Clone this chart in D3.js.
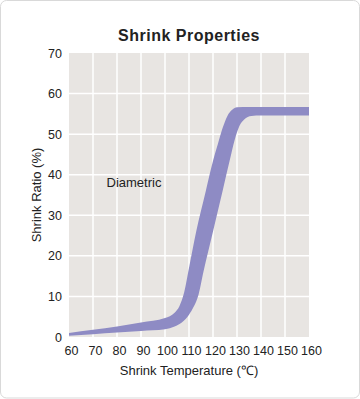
<!DOCTYPE html>
<html>
<head>
<meta charset="utf-8">
<script src="https://cdn.jsdelivr.net/npm/d3@7"></script>
<style>
  html, body { margin: 0; padding: 0; background: #fff; }
  svg { display: block; }
  text { font-family: "Liberation Sans", Arial, Helvetica, sans-serif; fill: #222; }
</style>
</head>
<body>
<svg id="chart" width="360" height="399"></svg>
<script>
// ---- data ----
const chartTitle = "Shrink Properties";
const xLabel = "Shrink Temperature (\u2103)";
const yLabel = "Shrink Ratio (%)";
const seriesName = "Diametric";
const xTicks = [60, 70, 80, 90, 100, 110, 120, 130, 140, 150, 160];
const yTicks = [0, 10, 20, 30, 40, 50, 60, 70];
// upper edge of band (temperature, ratio)
const upperTemp  = [60, 70, 80, 90, 100, 104, 106, 108, 110, 113, 117, 120, 122, 124, 126, 128, 130, 135, 160];
const upperRatio = [1.0, 1.8, 2.6, 3.6, 4.7, 6.0, 7.6, 11.0, 17.0, 26.0, 36.0, 43.4, 47.5, 51.5, 54.5, 56.0, 56.6, 56.7, 56.7];
// lower edge of band
const lowerTemp  = [60, 70, 80, 90, 100, 104, 107, 110, 112, 114, 116, 120, 124, 127, 129, 131, 133, 136, 140, 160];
const lowerRatio = [0.3, 0.7, 1.1, 1.5, 1.9, 2.6, 3.6, 5.5, 7.5, 10.5, 16.0, 26.0, 36.0, 43.6, 48.5, 52.0, 53.6, 54.5, 54.6, 54.6];

// ---- layout ----
const svg = d3.select("#chart");
const W = 360, H = 399;
const plot = { left: 69, right: 309, top: 53, bottom: 337 };

svg.append("rect")
  .attr("x", 0.5).attr("y", 0.5).attr("width", W - 1).attr("height", H - 1.5)
  .attr("rx", 6).attr("ry", 6)
  .attr("fill", "#fff").attr("stroke", "#d9d9d9").attr("stroke-width", 1);

const x = d3.scaleLinear().domain([60, 160]).range([plot.left, plot.right]);
const y = d3.scaleLinear().domain([0, 70]).range([plot.bottom, plot.top]);

// plot background
svg.append("rect")
  .attr("x", plot.left).attr("y", plot.top)
  .attr("width", plot.right - plot.left).attr("height", plot.bottom - plot.top)
  .attr("fill", "#e8e5e2");

// grid lines
const grid = svg.append("g").attr("stroke", "#fff").attr("stroke-width", 1.5);
xTicks.filter(t => t > 60 && t < 160).forEach(t => {
  grid.append("line").attr("x1", x(t)).attr("x2", x(t)).attr("y1", plot.top).attr("y2", plot.bottom);
});
yTicks.filter(t => t > 0 && t < 70).forEach(t => {
  grid.append("line").attr("x1", plot.left).attr("x2", plot.right).attr("y1", y(t)).attr("y2", y(t));
});

// band: upper edge forward, lower edge backward, closed
const upper = upperTemp.map((t, i) => [t, upperRatio[i]]);
const lowerRev = lowerTemp.map((t, i) => [t, lowerRatio[i]]).reverse();
const edge = d3.line().x(d => x(d[0])).y(d => y(d[1])).curve(d3.curveMonotoneX);
const bandPath = edge(upper) + edge(lowerRev).replace(/^M/, "L") + "Z";
svg.append("path")
  .attr("d", bandPath)
  .attr("fill", "#8e8bc4");

// y ticks
const yAxis = svg.append("g").attr("transform", `translate(${plot.left},0)`)
  .call(d3.axisLeft(y).tickValues(yTicks).tickSize(0).tickPadding(7));
yAxis.select(".domain").remove();
yAxis.selectAll("text")
  .attr("font-size", 12.5).attr("fill", "#222")
  .attr("font-family", "'Liberation Sans', Arial, sans-serif");

// x ticks
const xAxis = svg.append("g").attr("transform", `translate(0,${plot.bottom})`)
  .call(d3.axisBottom(x).tickValues(xTicks).tickSize(0).tickPadding(9));
xAxis.select(".domain").remove();
xAxis.selectAll("text")
  .attr("font-size", 12.5).attr("fill", "#222").attr("dx", 2)
  .attr("font-family", "'Liberation Sans Narrow', 'Liberation Sans', Arial, sans-serif");

// title
svg.append("text")
  .attr("x", (plot.left + plot.right) / 2).attr("y", 41)
  .attr("text-anchor", "middle")
  .attr("font-size", 16).attr("font-weight", "bold")
  .attr("letter-spacing", 0.5)
  .text(chartTitle);

// axis titles
svg.append("text")
  .attr("x", (plot.left + plot.right) / 2).attr("y", 374.5)
  .attr("text-anchor", "middle")
  .attr("font-size", 13)
  .text(xLabel);

svg.append("text")
  .attr("transform", `translate(41,${(plot.top + plot.bottom) / 2}) rotate(-90)`)
  .attr("text-anchor", "middle")
  .attr("font-size", 13)
  .text(yLabel);

// series label
svg.append("text")
  .attr("x", 106.5).attr("y", 187)
  .attr("font-size", 13)
  .text(seriesName);
</script>
</body>
</html>
